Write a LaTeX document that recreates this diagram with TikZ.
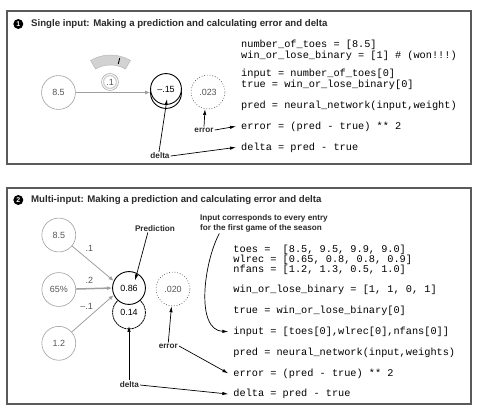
\documentclass[tikz,border=0pt]{standalone}
\usepackage{fontspec}
\setmainfont{Liberation Sans}
\setsansfont{Liberation Sans}
\setmonofont{Liberation Mono}
\usetikzlibrary{arrows.meta}
\definecolor{frame}{HTML}{5A5A5A}
\definecolor{txt}{HTML}{2A2A2A}
\definecolor{ctxt}{HTML}{555555}
\tikzset{
  framebox/.style={draw=frame, line width=1.3},
  bullet/.style={circle, fill=black, minimum size=10, inner sep=0, text=white, font=\sffamily\bfseries\fontsize{7}{7}\selectfont},
  title/.style={anchor=west, inner sep=0, text=txt, font=\sffamily\bfseries\fontsize{9.7}{11}\selectfont},
  incirc/.style={circle, draw=gray!75, line width=0.6, minimum size=34, inner sep=0, text=ctxt, font=\sffamily\fontsize{9}{10}\selectfont},
  outcirc/.style={circle, draw=black, line width=0.9, fill=white, minimum size=33, inner sep=0, text=black, font=\sffamily\fontsize{9}{10}\selectfont},
  errcirc/.style={circle, draw=black!70, dotted, line width=0.7, minimum size=34, inner sep=0, text=ctxt, font=\sffamily\fontsize{9}{10}\selectfont},
  wlbl/.style={inner sep=0, text=ctxt, font=\sffamily\fontsize{9}{10}\selectfont},
  lbl/.style={inner sep=1, text=txt, font=\sffamily\bfseries\fontsize{8.2}{9.5}\selectfont},
  code/.style={anchor=base west, inner xsep=4, inner ysep=1, text=black, font=\ttfamily\fontsize{10.3}{11}\selectfont},
  garrow/.style={draw=gray!75, line width=0.8, -{Latex[length=5,width=4]}},
  barrow/.style={draw=black, line width=0.7, -{Latex[length=6,width=3.4]}},
}
\begin{document}
\begin{tikzpicture}[x=1bp,y=-1bp]
\useasboundingbox (0,0) rectangle (483,412);
% frames
\draw[framebox] (7,11) rectangle (471,164);
\draw[framebox] (7,188) rectangle (471,404);
% titles
\node[bullet] (b1) at (18.3,24) {1};
\node[title] (t1) at (31,24) {Single input: Making a prediction and calculating error and delta};
\node[bullet] (b2) at (18.3,200) {2};
\node[title] (t2) at (31,200) {Multi-input: Making a prediction and calculating error and delta};

% ---------- section 1 ----------
\node[incirc] (in1) at (58.5,92.5) {8.5};
% gauge
\fill[gray!35, draw=gray!60, line width=0.4] ([shift={(-60:40)}]110.5,95) arc[start angle=-60, end angle=-120, radius=40]
  -- ([shift={(-120:30)}]110.5,95) arc[start angle=-120, end angle=-60, radius=30] -- cycle;
\draw[black, line width=0.9] ([shift={(-76:32)}]110.5,95) -- ([shift={(-76:38)}]110.5,95);
% weight badge
\node[circle, draw=gray!70, line width=0.6, minimum size=17, inner sep=0] (w1) at (110,82) {};
\node[circle, draw=gray!35, line width=1.3, minimum size=13, inner sep=0, wlbl] (w1i) at (110,82) {.1};
% output
\node[outcirc, minimum size=31] (o1s) at (166,93) {};
\node[outcirc, minimum size=31] (o1) at (166,89) {--.15};
\node[errcirc] (e1) at (208,92) {.023};
\draw[garrow] (in1) -- (o1.west |- in1.east);
% code 1
\node[code] (c1a) at (237,47) {number\_of\_toes = [8.5]};
\node[code] (c1b) at (237,58) {win\_or\_lose\_binary = [1] \# (won!!!)};
\node[code] (c1c) at (237,76) {input = number\_of\_toes[0]};
\node[code] (c1d) at (237,87) {true = win\_or\_lose\_binary[0]};
\node[code] (c1e) at (237,108) {pred = neural\_network(input,weight)};
\node[code] (c1f) at (237,129) {error = (pred - true) ** 2};
\node[code] (c1g) at (237,150) {delta = pred - true};
% labels 1
\node[lbl] (err1) at (204,130) {error};
\node[lbl] (del1) at (160,156) {delta};
\draw[barrow] (err1.north -| 204,0) -- (e1.-100);
\draw[barrow] (err1.east) -- ([xshift=-1]c1f.west);
\draw[barrow] ([xshift=-1]del1.north) -- (167,99);
\draw[barrow] (del1.east) -- ([xshift=-1]c1g.west);

% ---------- section 2 ----------
\node[incirc] (a1) at (58.8,235) {8.5};
\node[incirc] (a2) at (58.8,289.5) {65\%};
\node[incirc] (a3) at (58.8,343.3) {1.2};
\node[outcirc, dash pattern=on 2pt off 0.6pt, line width=0.8] (o3) at (129,312.5) {0.14};
\node[outcirc] (o2) at (129,288) {0.86};
\node[errcirc] (e2) at (173,289) {.020};
\draw[garrow] (a1) -- (o2.155);
\draw[garrow, line width=1.5] (a2) -- (o2.west);
\draw[garrow] (a3) -- (o2.205);
\node[wlbl] (l1) at (89.3,248.3) {.1};
\node[wlbl] (l2) at (89.3,280.7) {.2};
\node[wlbl] (l3) at (86.7,306.7) {--.1};
% code 2
\node[code] (c2a) at (229.3,252) {toes =\ \ [8.5, 9.5, 9.9, 9.0]};
\node[code] (c2b) at (229.3,262.3) {wlrec = [0.65, 0.8, 0.8, 0.9]};
\node[code] (c2c) at (229.3,272.7) {nfans = [1.2, 1.3, 0.5, 1.0]};
\node[code] (c2d) at (229.3,292.7) {win\_or\_lose\_binary = [1, 1, 0, 1]};
\node[code] (c2e) at (229.3,313.3) {true = win\_or\_lose\_binary[0]};
\node[code] (c2f) at (229.3,334.3) {input = [toes[0],wlrec[0],nfans[0]]};
\node[code] (c2g) at (229.3,355) {pred = neural\_network(input,weights)};
\node[code] (c2h) at (229.3,376) {error = (pred - true) ** 2};
\node[code] (c2i) at (229.3,396.7) {delta = pred - true};
% labels 2
\node[lbl] (pred) at (155,228.3) {Prediction};
\node[lbl, align=left, anchor=north west, inner sep=0] (note) at (200,214.5) {Input corresponds to every entry\\for the first game of the season};
\node[lbl] (err2) at (168.3,346) {error};
\node[lbl] (del2) at (129.3,385) {delta};
\draw[barrow] (pred.south west) ++(14,0) -- (135,280.5);
\draw[barrow] (err2.north) -- (e2.-95);
\draw[barrow] (err2.east) -- ([xshift=-1]c2h.west);
\draw[barrow] (129,380) -- (129,326);
\draw[barrow] (del2.east) -- ([xshift=-1]c2i.west);
\coordinate (cs) at (219.3,233.5);
\draw[barrow] (cs) .. controls (204,262) and (195,330) .. ([xshift=-1]c2f.west);
\end{tikzpicture}
\end{document}
